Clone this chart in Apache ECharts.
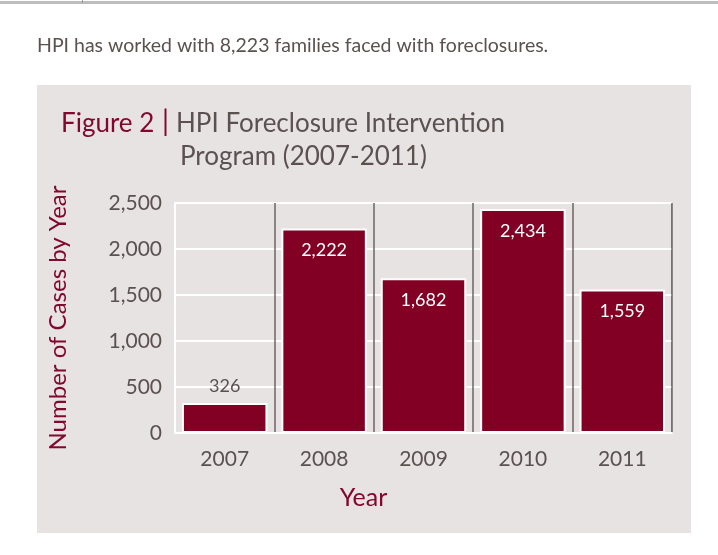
<!DOCTYPE html>
<html>
<head>
<meta charset="utf-8">
<script src="https://cdn.jsdelivr.net/npm/echarts@6/dist/echarts.min.js"></script>
<style>
  html, body { margin: 0; padding: 0; background: #fff; }
  #chart { width: 718px; height: 555px; }
</style>
</head>
<body>
<div id="chart"></div>
<script>
'use strict';

const years = ['2007', '2008', '2009', '2010', '2011'];
const cases = [326, 2222, 1682, 2434, 1559];
const yTicks = [0, 500, 1000, 1500, 2000, 2500];

const red = '#82082f';
const gray = '#5b5250';
const font = 'Lato';

function fmt(v) {
  return v.toLocaleString('en-US');
}

function titleText(left, top, text, color, size) {
  return {
    left: left, top: top, text: text, padding: 0,
    textStyle: { fontFamily: font, fontSize: size || 26, fontWeight: 'normal', color: color }
  };
}

const chart = echarts.init(document.getElementById('chart'));

const option = {
  animation: false,
  textStyle: { fontFamily: font },
  graphic: [
    // top page rule
    { type: 'rect', shape: { x: 0, y: 1, width: 718, height: 3 }, style: { fill: '#bdbdbd' }, z: -10 },
    { type: 'rect', shape: { x: 82, y: 0, width: 1, height: 3 }, style: { fill: '#9a9a9a' }, z: -10 },
    // sentence
    {
      type: 'text', left: 37, top: 36, z: -10,
      style: { text: 'HPI has worked with 8,223 families faced with foreclosures.', fill: gray, font: '19.5px ' + font }
    },
    // gray figure panel
    { type: 'rect', shape: { x: 37, y: 85, width: 654, height: 448 }, style: { fill: '#e7e3e2' }, z: -20 },
    // right edge of plot area
    { type: 'rect', shape: { x: 671, y: 203, width: 1, height: 230 }, style: { fill: '#9a908e' }, z: -5 }
  ],
  title: [
    titleText(61, 111, 'Figure 2', red),
    titleText(162, 108, '|', red, 28),
    titleText(176, 111, 'HPI Foreclosure Intervention', gray),
    titleText(180, 144, 'Program (2007-2011)', gray)
  ],
  grid: { left: 175, right: 46, top: 203, bottom: 122 },
  xAxis: {
    type: 'category',
    data: years,
    axisTick: { show: false },
    axisLine: { show: true, lineStyle: { color: '#ffffff', width: 2 } },
    axisLabel: { color: gray, fontSize: 21, margin: 16, fontFamily: font },
    splitLine: { show: true, lineStyle: { color: '#6e6462', width: 1.5 } },
    name: 'Year',
    nameLocation: 'middle',
    nameGap: 52,
    nameTextStyle: { color: red, fontSize: 25, fontFamily: font, padding: [0, 120, 0, 0] }
  },
  yAxis: {
    type: 'value',
    min: 0,
    max: 2500,
    interval: 500,
    axisLine: { show: true, lineStyle: { color: '#ffffff', width: 2 } },
    axisTick: { show: false },
    axisLabel: {
      color: gray, fontSize: 21, margin: 13, fontFamily: font,
      formatter: function (v) { return yTicks.indexOf(v) >= 0 ? fmt(v) : ''; }
    },
    splitLine: { lineStyle: { color: '#ffffff', width: 2 } },
    name: 'Number of Cases by Year',
    nameLocation: 'middle',
    nameRotate: 90,
    nameGap: 105,
    nameTextStyle: { color: red, fontSize: 24, fontFamily: font }
  },
  series: [{
    type: 'bar',
    barWidth: '86%',
    data: cases.map(function (v) {
      const small = v < 1000;
      return {
        value: v,
        label: {
          show: true,
          position: small ? 'top' : 'insideTop',
          distance: small ? 8 : 13,
          color: small ? gray : '#ffffff',
          fontSize: 18,
          fontFamily: font,
          formatter: function (p) { return fmt(p.value); }
        }
      };
    }),
    itemStyle: { color: '#820024', borderColor: '#ffffff', borderWidth: 2 }
  }]
};

chart.setOption(option);
</script>
</body>
</html>
